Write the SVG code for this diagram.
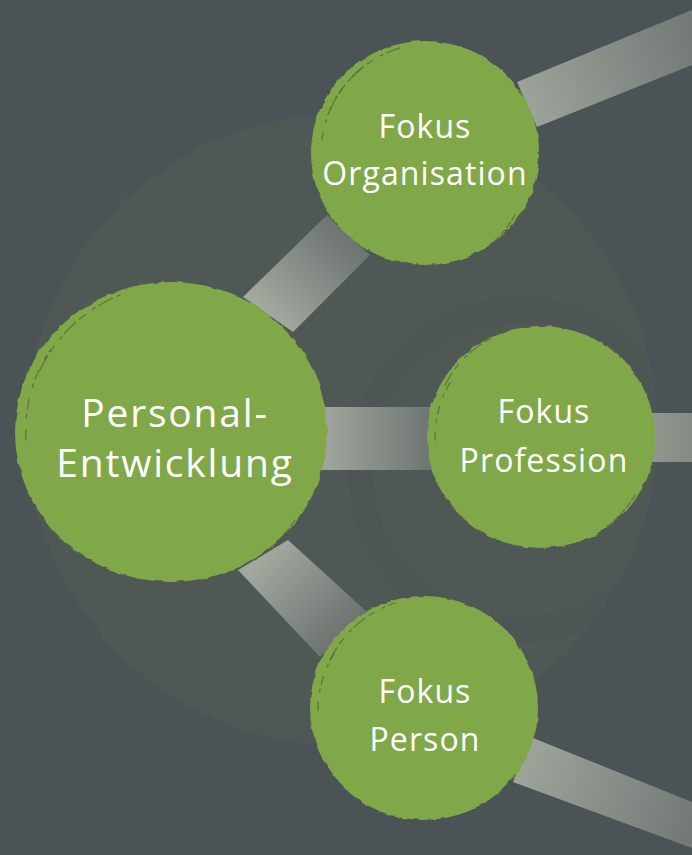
<svg xmlns="http://www.w3.org/2000/svg" width="692" height="855" viewBox="0 0 692 855">
  <style>
    .node { fill: #80a84a; }
    .lbl { font-family: "Open Sans", "Noto Sans", "Liberation Sans", sans-serif; fill: #ffffff; text-anchor: middle; font-weight: 500; }
    .sm { font-size: 32px; letter-spacing: 1.1px; }
    .lg { font-size: 39px; letter-spacing: 1.8px; }
    .scratch { fill: none; stroke: #53603f; stroke-width: 1.3; opacity: 0.7; stroke-linecap: round; }
  </style>
  <defs>
    <filter id="rough" x="-10%" y="-10%" width="120%" height="120%">
      <feTurbulence type="fractalNoise" baseFrequency="0.09" numOctaves="2" seed="3" result="n"/>
      <feDisplacementMap in="SourceGraphic" in2="n" scale="4" xChannelSelector="R" yChannelSelector="G"/>
    </filter>
    <linearGradient id="gOrgTR" gradientUnits="userSpaceOnUse" x1="520" y1="110" x2="692" y2="38">
      <stop offset="0" stop-color="#9ea59b"/>
      <stop offset="1" stop-color="#747a77"/>
    </linearGradient>
    <linearGradient id="gPeOrg" gradientUnits="userSpaceOnUse" x1="268" y1="314" x2="348" y2="235">
      <stop offset="0" stop-color="#a3a99f"/>
      <stop offset="1" stop-color="#6c7370"/>
    </linearGradient>
    <linearGradient id="gPePro" gradientUnits="userSpaceOnUse" x1="325" y1="438" x2="430" y2="438">
      <stop offset="0" stop-color="#a0a69c"/>
      <stop offset="1" stop-color="#6f7572"/>
    </linearGradient>
    <linearGradient id="gProR" gradientUnits="userSpaceOnUse" x1="650" y1="438" x2="692" y2="438">
      <stop offset="0" stop-color="#91978e"/>
      <stop offset="1" stop-color="#858b84"/>
    </linearGradient>
    <linearGradient id="gPePer" gradientUnits="userSpaceOnUse" x1="263" y1="555" x2="343" y2="635">
      <stop offset="0" stop-color="#a3a99f"/>
      <stop offset="1" stop-color="#6c7370"/>
    </linearGradient>
    <linearGradient id="gPerBR" gradientUnits="userSpaceOnUse" x1="520" y1="760" x2="692" y2="825">
      <stop offset="0" stop-color="#9ea59b"/>
      <stop offset="1" stop-color="#737976"/>
    </linearGradient>
  </defs>

  <rect x="0" y="0" width="692" height="855" fill="#4b5356"/>

  <g id="background">
    <circle cx="342" cy="430" r="316" fill="#505854" filter="url(#rough)"/>
    <circle cx="520" cy="470" r="160" fill="none" stroke="#4b5355" stroke-width="24" opacity="0.35"/>
  </g>

  <g id="connectors">
    <polygon points="517,82 692,10 692,65 537,127" fill="url(#gOrgTR)"/>
    <polygon points="243,297 327,215 370,255 293,332" fill="url(#gPeOrg)"/>
    <rect x="300" y="407" width="150" height="63" fill="url(#gPePro)"/>
    <rect x="630" y="413" width="62" height="49" fill="url(#gProR)"/>
    <polygon points="238,570 288,540 367,612 320,657" fill="url(#gPePer)"/>
    <polygon points="533,738 692,802 692,848 513,782" fill="url(#gPerBR)"/>
  </g>

  <g id="node-organisation">
    <ellipse class="node" cx="425" cy="153" rx="114" ry="112" filter="url(#rough)"/>
    <path class="scratch" d="M330,110 A110,110 0 0 1 400,48" stroke-dasharray="14 5 6 9 3 4"/>
    <path class="scratch" d="M322,140 A105,105 0 0 1 360,70" stroke-dasharray="8 10 3 5"/>
    <path class="scratch" d="M515,215 A108,108 0 0 1 490,245" stroke-dasharray="6 3"/>
    <text class="lbl sm" x="425" y="138">Fokus</text>
    <text class="lbl sm" x="425" y="185">Organisation</text>
  </g>

  <g id="node-personal">
    <ellipse class="node" cx="171" cy="432" rx="156" ry="150" filter="url(#rough)"/>
    <path class="scratch" d="M40,370 A150,150 0 0 1 120,295" stroke-dasharray="16 5 7 9 3 4"/>
    <path class="scratch" d="M26,440 A148,148 0 0 1 50,350" stroke-dasharray="10 12 4 5"/>
    <path class="scratch" d="M295,520 A150,150 0 0 1 255,560" stroke-dasharray="7 4"/>
    <text class="lbl lg" x="175" y="427">Personal-</text>
    <text class="lbl lg" x="175" y="477">Entwicklung</text>
  </g>

  <g id="node-profession">
    <ellipse class="node" cx="541" cy="437" rx="114" ry="111" filter="url(#rough)"/>
    <path class="scratch" d="M445,385 A110,110 0 0 1 510,330" stroke-dasharray="14 5 6 9 3 4"/>
    <path class="scratch" d="M435,440 A108,108 0 0 1 455,375" stroke-dasharray="8 10 3 5"/>
    <path class="scratch" d="M635,495 A110,110 0 0 1 605,528" stroke-dasharray="6 3"/>
    <text class="lbl sm" x="544" y="423">Fokus</text>
    <text class="lbl sm" x="544" y="472">Profession</text>
  </g>

  <g id="node-person">
    <ellipse class="node" cx="424" cy="708" rx="114" ry="112" filter="url(#rough)"/>
    <path class="scratch" d="M330,660 A110,110 0 0 1 395,603" stroke-dasharray="14 5 6 9 3 4"/>
    <path class="scratch" d="M318,710 A108,108 0 0 1 340,645" stroke-dasharray="8 10 3 5"/>
    <path class="scratch" d="M515,775 A110,110 0 0 1 490,800" stroke-dasharray="6 3"/>
    <text class="lbl sm" x="425" y="703">Fokus</text>
    <text class="lbl sm" x="425" y="751">Person</text>
  </g>
</svg>
